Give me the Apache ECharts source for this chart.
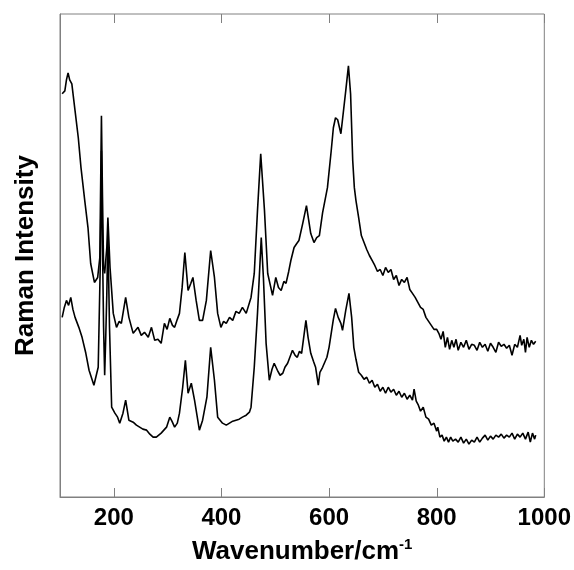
<!DOCTYPE html>
<html><head><meta charset="utf-8">
<script src="https://cdn.jsdelivr.net/npm/echarts@6/dist/echarts.min.js"></script>
<style>html,body{margin:0;padding:0;background:#fff}#c{width:574px;height:570px}</style>
</head><body><div id="c"></div>
<script>
// Upper spectrum (wavenumber, intensity in arbitrary units)
const upperWn = [104,109,112,115,118,122,128,134,139,146,152,157,164,170,174,177,179,181,183,187,189,193,199,205,210,214,222,228,236,245,251,257,264,270,276,282,288,294,299,304,309,313,318,322,327,332,338,343,347,353,359,365,372,380,387,393,399,404,409,415,421,427,433,439,446,449,455,461,467,473,480,486,495,501,506,511,516,520,525,529,535,540,544,551,558,562,566,572,577,582,588,597,604,608,612,616,619,622,625,631,636,640,644,647,650,655,660,665,670,675,680,685,690,695,700,705,710,715,720,725,730,735,740,745,750,755,760,765,770,775,780,785,790,795,800,804,808,812,816,820,824,828,832,836,840,845,850,855,860,865,870,875,880,885,890,895,900,905,910,915,920,925,930,935,940,945,950,955,958,962,965,968,972,976,980,984];
const upperInt = [404,407,418,425,418,414,387,360,330,297,270,234,215,220,240,382,300,230,224,250,280,230,184,170,176,174,200,180,164,170,162,165,160,170,157,158,154,174,168,179,172,170,178,184,210,245,207,214,220,197,177,177,197,247,220,184,170,176,174,180,177,186,184,190,184,184,200,224,287,344,287,224,202,220,210,207,216,214,226,237,250,254,257,274,292,278,264,255,260,262,285,310,347,370,380,378,377,364,362,407,432,404,337,310,297,280,262,255,248,242,237,232,226,228,222,230,225,228,218,222,212,218,215,220,208,204,200,195,190,188,180,176,172,168,168,164,158,166,150,160,148,157,150,158,147,155,150,157,148,153,152,147,155,150,153,146,154,150,145,155,151,153,149,152,142,153,150,162,152,158,145,160,150,157,153,156];
// Lower spectrum
const lowerWn = [104,108,112,116,120,124,128,135,141,148,154,160,163,166,171,175,177,179,181,183,185,187,189,192,196,202,207,211,217,222,228,236,242,248,254,261,267,273,279,288,298,304,308,313,318,322,328,333,338,344,350,359,365,373,380,387,393,402,409,415,421,427,433,439,446,452,455,461,467,474,478,483,489,494,498,504,509,514,518,523,532,537,541,545,549,557,561,566,571,575,580,583,588,596,600,604,608,612,617,622,625,631,637,642,646,650,655,660,665,670,675,680,685,690,695,700,705,710,715,720,725,730,735,740,745,750,755,758,762,766,770,775,780,785,790,795,800,802,806,810,814,818,822,826,830,835,840,845,850,855,860,865,870,875,880,885,890,895,900,905,910,915,920,925,930,935,940,945,950,955,960,965,970,974,978,982,984];
const lowerInt = [180,190,197,192,200,188,180,170,160,144,127,117,112,112,130,237,347,250,170,122,160,204,264,170,90,84,80,74,84,97,77,75,72,70,68,67,63,60,60,64,70,80,76,70,74,84,110,137,104,114,97,67,77,100,150,117,80,74,72,74,76,77,78,80,82,85,90,130,184,260,220,154,117,128,134,127,122,124,130,134,147,142,140,146,144,177,160,144,136,130,112,125,130,140,150,164,178,189,180,174,167,187,204,180,150,138,125,122,118,120,114,117,110,113,106,110,104,110,105,108,102,106,100,104,98,102,97,108,96,92,86,90,80,78,72,74,66,70,60,62,56,60,55,60,56,58,55,60,54,58,53,57,55,60,55,59,62,57,61,58,62,60,63,59,62,60,64,58,63,60,64,58,65,55,64,58,62];
const xTicks = [200,400,600,800,1000];
const xMin = 100, xMax = 1000, yMin = 0, yMax = 484;

const pair = (a,b) => a.map((v,i)=>[v,b[i]]);
const chart = echarts.init(document.getElementById('c'), null, {renderer:'canvas'});
const frame = '#808080';
const font = 'Liberation Sans, Arial, sans-serif';
chart.setOption({
  animation:false,
  backgroundColor:'#fff',
  grid:{left:60,right:28,top:14,bottom:73,show:true,borderColor:frame,borderWidth:1,backgroundColor:'transparent'},
  xAxis:{
    type:'value',min:xMin,max:xMax,position:'bottom',
    axisLine:{show:true,lineStyle:{color:frame,width:1}},
    axisTick:{show:false},
    axisLabel:{show:true,customValues:xTicks,margin:9,color:'#000',fontFamily:font,fontWeight:'bold',fontSize:24,formatter:v=>String(v)},
    splitLine:{show:false},
    name:'{a|Wavenumber/cm}{b|-1}',nameLocation:'middle',nameGap:40,
    nameTextStyle:{rich:{a:{fontFamily:font,fontWeight:'bold',fontSize:26,color:'#000'},b:{fontFamily:font,fontWeight:'bold',fontSize:15,color:'#000',verticalAlign:'top',padding:[0,0,14,0]}}}
  },
  yAxis:{
    type:'value',min:yMin,max:yMax,
    axisLine:{show:true,lineStyle:{color:frame,width:1}},
    axisTick:{show:false},axisLabel:{show:false},splitLine:{show:false},
    name:'Raman Intensity',nameLocation:'middle',nameGap:21,
    nameTextStyle:{fontFamily:font,fontWeight:'bold',fontSize:26,color:'#000'}
  },
  series:[
    {type:'line',data:pair(upperWn,upperInt),showSymbol:false,lineStyle:{color:'#000',width:1.6}},
    {type:'line',data:pair(lowerWn,lowerInt),showSymbol:false,lineStyle:{color:'#000',width:1.6}},
    {type:'custom',silent:true,clip:false,data:xTicks.map(v=>[v,yMin]),encode:{x:0,y:1},
      renderItem:(params,api)=>{
        const x = api.value(0);
        const b = api.coord([x,yMin]);
        const t = api.coord([x,yMax]);
        const px = Math.round(b[0]) + 0.5;
        return {type:'group',children:[
          {type:'line',shape:{x1:px,y1:b[1],x2:px,y2:b[1]-9},style:{stroke:frame,lineWidth:1}},
          {type:'line',shape:{x1:px,y1:t[1],x2:px,y2:t[1]+9},style:{stroke:frame,lineWidth:1}}
        ]};
      }}
  ]
});
</script></body></html>
